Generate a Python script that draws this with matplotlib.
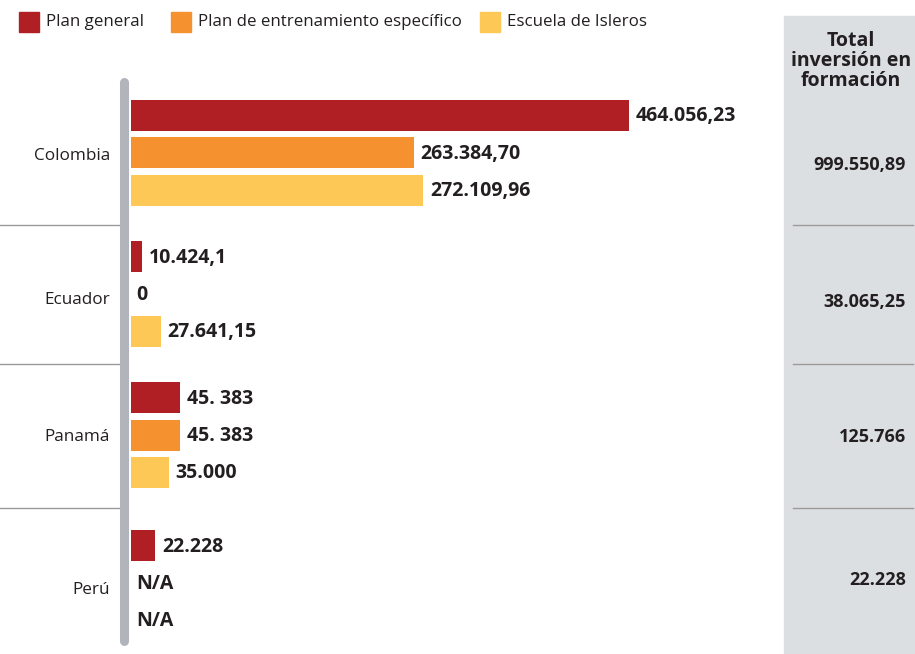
import matplotlib
matplotlib.use("Agg")
import matplotlib.pyplot as plt
from matplotlib.patches import Rectangle
import numpy as np

# ---- data ----
countries = ["Colombia", "Ecuador", "Panamá", "Perú"]
series_names = ["Plan general", "Plan de entrenamiento específico", "Escuela de Isleros"]
plan_general = [464056.23, 10424.1, 45383, 22228]
plan_especifico = [263384.70, 0, 45383, np.nan]
escuela_isleros = [272109.96, 27641.15, 35000, np.nan]
labels_general = ["464.056,23", "10.424,1", "45. 383", "22.228"]
labels_especifico = ["263.384,70", "0", "45. 383", "N/A"]
labels_isleros = ["272.109,96", "27.641,15", "35.000", "N/A"]
totals = ["999.550,89", "38.065,25", "125.766", "22.228"]
total_title = "Total\ninversión en\nformación"

colors = ["#b01f24", "#f5922f", "#fec857"]
plt.rcParams['font.family'] = ['Open Sans', 'DejaVu Sans']

W, H = 915, 654
fig = plt.figure(figsize=(W / 100, H / 100), dpi=100)

# background / layout axes in pixel coordinates
bg = fig.add_axes([0, 0, 1, 1])
bg.set_xlim(0, W)
bg.set_ylim(H, 0)
bg.axis("off")

# grey total panel
bg.add_patch(Rectangle((784, 16), W - 784, H - 16, color="#dcdfe2", zorder=0))
bg.text(851, 61, total_title, ha="center", va="center", fontsize=14,
        fontweight="bold", color="#231f20", linespacing=1.0)

group_centers = [152.5, 294, 435, 583]
label_centers = [156, 300, 437, 590]
total_centers = [165, 302, 437, 580]
dividers = [225, 364, 508]
for d in dividers:
    bg.plot([0, 120], [d, d], color="#9a9a9a", lw=1.0)
    bg.plot([793, 913], [d, d], color="#9a9a9a", lw=1.0)

for c, ly in zip(countries, label_centers):
    bg.text(110, ly, c, ha="right", va="center", fontsize=12.3, color="#231f20")
for ty, t in zip(total_centers, totals):
    bg.text(906, ty, t, ha="right", va="center", fontsize=13,
            fontweight="bold", color="#231f20")

# vertical rounded bar
bg.plot([124, 124], [82, 641], color="#b1b5bb", lw=6.5, solid_capstyle="round")

# legend
leg_x = [19, 171, 480]
for x, name, col in zip(leg_x, series_names, colors):
    bg.add_patch(Rectangle((x, 12), 20, 20, color=col))
    bg.text(x + 27, 22, name, ha="left", va="center", fontsize=12.2, color="#231f20")

# main bar axes
ax = fig.add_axes([131 / W, 0, (784 - 131) / W, 1])
ax.patch.set_alpha(0)
ax.set_ylim(H, 0)
scale = 498 / 464056.23
ax.set_xlim(0, 653 / scale)
ax.axis("off")

offsets = [-37.5, 0, 37.5]
series = [plan_general, plan_especifico, escuela_isleros]
labels = [labels_general, labels_especifico, labels_isleros]
px = 1 / scale
for vals, labs, col, off in zip(series, labels, colors, offsets):
    ys = [g + off for g in group_centers]
    v = np.nan_to_num(np.array(vals, dtype=float))
    ax.barh(ys, v, height=31, color=col, edgecolor="none")
    for y, val, lab in zip(ys, v, labs):
        x = val + 7 * px if val > 0 else 5 * px
        ax.text(x, y + 1, lab, ha="left", va="center", fontsize=14,
                fontweight="bold", color="#231f20")

fig.savefig("out.png", dpi=100)
